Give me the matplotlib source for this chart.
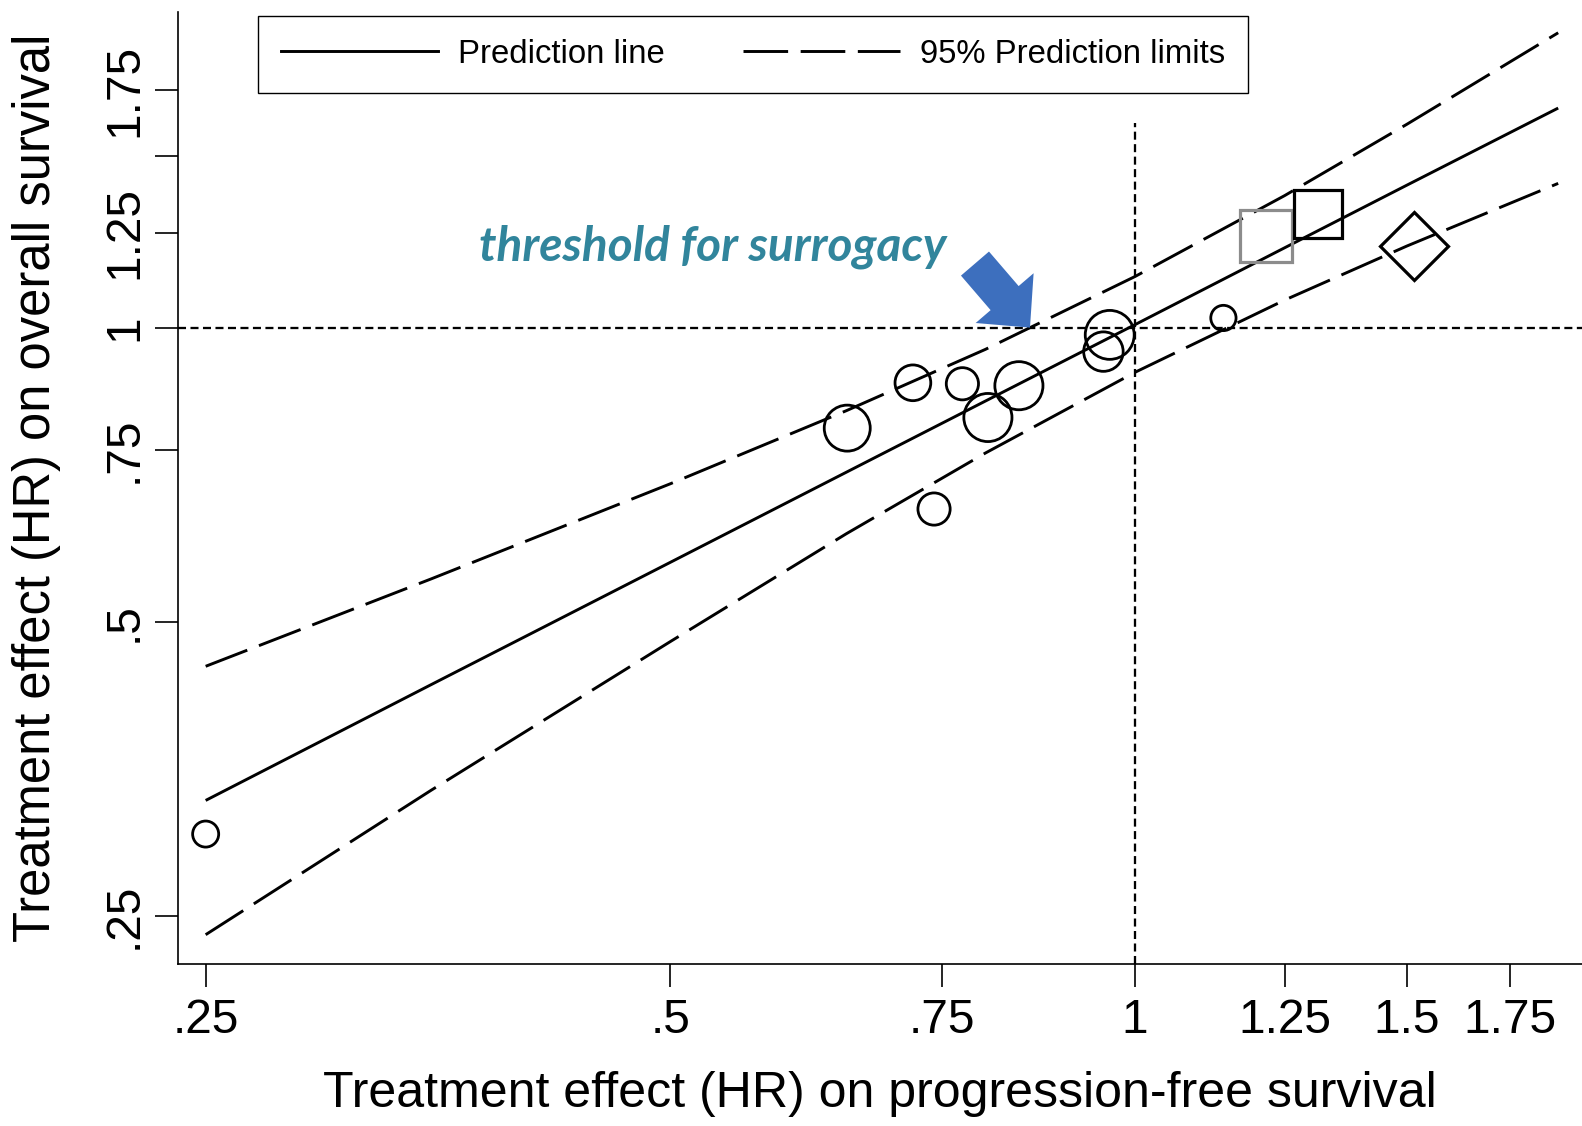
import numpy as np
import matplotlib
matplotlib.use("Agg")
import matplotlib.pyplot as plt
from matplotlib.lines import Line2D

plt.rcParams.update({"font.family": ["Liberation Sans", "DejaVu Sans"]})

# trial-level treatment effects (HR): PFS on x, OS on y
pfs_hr = [0.250, 0.651, 0.718, 0.773, 0.841, 0.803, 0.741, 0.963, 0.954, 1.141]
os_hr = [0.303, 0.789, 0.878, 0.876, 0.872, 0.809, 0.652, 0.983, 0.945, 1.023]
trial_weight = [17, 53, 32, 26, 58, 58, 26, 60, 39, 16]

# validation trials drawn with their own symbols
sq_grey = (1.215, 1.242)
sq_black = (1.314, 1.306)
diamond = (1.516, 1.211)

# prediction line and 95% prediction limits read along the PFS axis
grid_hr = [0.25, 0.35, 0.5, 0.65, 0.8, 1.0, 1.25, 1.5, 1.88]
pred_line = [0.328, 0.431, 0.575, 0.711, 0.841, 1.007, 1.207, 1.399, 1.678]
pred_upper = [0.450, 0.553, 0.692, 0.822, 0.950, 1.128, 1.365, 1.615, 2.004]
pred_lower = [0.239, 0.336, 0.477, 0.615, 0.744, 0.900, 1.067, 1.212, 1.405]

THRESH_TOP = 1.62      # vertical reference line stops here
ARROW_TIP = (0.855, 1.0)

xticks = [0.25, 0.5, 0.75, 1, 1.25, 1.5, 1.75]
xlabels = [".25", ".5", ".75", "1", "1.25", "1.5", "1.75"]
yticks = [0.25, 0.5, 0.75, 1, 1.25, 1.5, 1.75]
ylabels = [".25", ".5", ".75", "1", "1.25", "", "1.75"]

fig = plt.figure(figsize=(15.82, 11.26), dpi=100)
ax = fig.add_axes([0.1127, 0.1443, 0.8873, 0.8453])
ax.set_xscale("log", base=2)
ax.set_yscale("log", base=2)
ax.set_xlim(0.2400, 1.948)
ax.set_ylim(0.2233, 2.106)

LW = 2.1
LIM_DASH = (15.3, 4.3)
REF_DASH = (3.5, 1.95)

ax.plot(grid_hr, pred_line, color="black", lw=LW, solid_capstyle="butt")
ax.plot(grid_hr, pred_upper, color="black", lw=LW, dashes=LIM_DASH)
ax.plot(grid_hr, pred_lower, color="black", lw=LW, dashes=LIM_DASH)

ax.axhline(1, color="black", lw=1.65, dashes=REF_DASH)
ax.vlines(1, ax.get_ylim()[0], THRESH_TOP, color="black", lw=1.65,
          linestyles=[(0, REF_DASH)])

ax.scatter(pfs_hr, os_hr, s=np.array(trial_weight) * 20.7, facecolors="none",
           edgecolors="black", linewidths=2.0, zorder=3)
ax.plot(*sq_grey, marker="s", ms=37, mfc="none", mec="#8c8c8c", mew=2.3)
ax.plot(*sq_black, marker="s", ms=34.6, mfc="none", mec="black", mew=2.3)
ax.plot(*diamond, marker="D", ms=35, mfc="none", mec="black", mew=2.3)

ax.set_xticks(xticks)
ax.set_xticklabels(xlabels)
ax.set_yticks(yticks)
ax.set_yticklabels(ylabels, rotation=90, va="center")
ax.minorticks_off()
ax.tick_params(direction="out", length=16.6, width=1.2, labelsize=34.5)
ax.tick_params(axis="x", pad=8)
ax.tick_params(axis="y", pad=6)
ax.spines[["top", "right"]].set_visible(False)
for s in ("left", "bottom"):
    ax.spines[s].set_linewidth(1.2)

ax.set_xlabel("Treatment effect (HR) on progression-free survival",
              fontsize=36.1, va="center")
ax.xaxis.set_label_coords(0.5, -0.1371)
ax.set_ylabel("Treatment effect (HR) on overall survival", fontsize=36.5,
              va="center")
ax.yaxis.set_label_coords(-0.1007, 0.5)

handles = [Line2D([], [], color="black", lw=LW),
           Line2D([], [], color="black", lw=LW, dashes=LIM_DASH)]
leg = fig.legend(handles, ["Prediction line", "95% Prediction limits"],
                 loc="upper left", bbox_to_anchor=(0.1633, 0.9857),
                 bbox_transform=fig.transFigure, ncol=2, fontsize=23.7,
                 handlelength=4.77, handletextpad=0.62, columnspacing=2.36,
                 borderpad=0.69, borderaxespad=0, fancybox=False,
                 framealpha=1)
leg.get_frame().set_edgecolor("black")
leg.get_frame().set_linewidth(1.0)

ax.text(0.5325, 1.21, "threshold for surrogacy", ha="center", va="center",
        fontsize=34.4, color="#31859C", family="Lato", weight="bold",
        style="italic")
ax.annotate("", xy=ARROW_TIP, xytext=(-39.6, 46.1),
            textcoords="offset points",
            arrowprops=dict(arrowstyle="simple,head_length=28,head_width=55,"
                                       "tail_width=26.6",
                            mutation_scale=1, fc="#3D6FBE", ec="none",
                            shrinkA=0, shrinkB=0, patchA=None))

fig.savefig("out.png", dpi=100)
